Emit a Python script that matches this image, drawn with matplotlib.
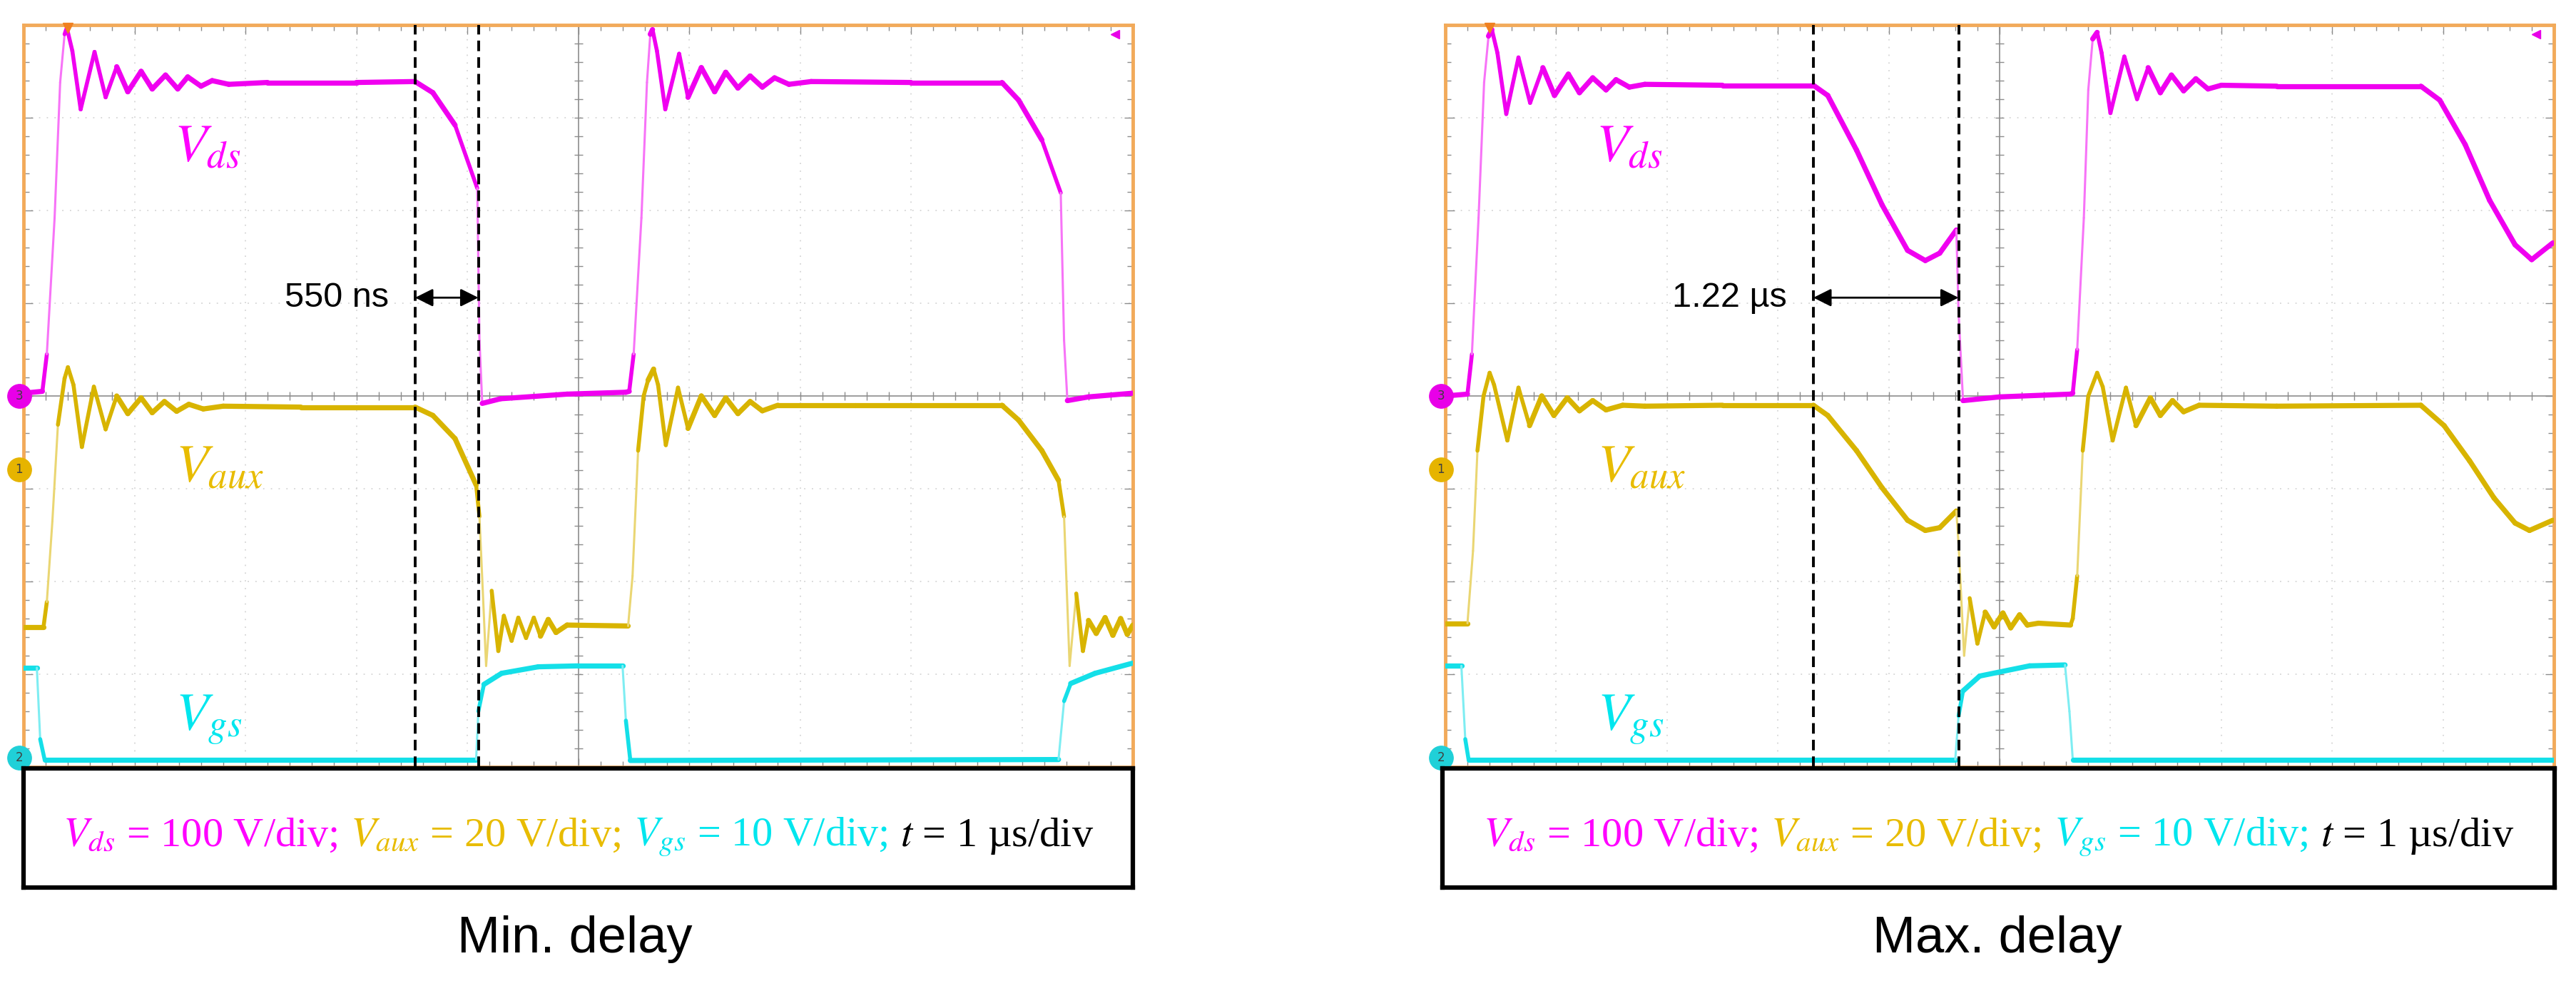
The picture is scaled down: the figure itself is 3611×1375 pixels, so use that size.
import numpy as np
import matplotlib
matplotlib.use("Agg")
import matplotlib.pyplot as plt
from matplotlib.collections import LineCollection
from matplotlib.colors import to_rgb

plt.rcParams["mathtext.fontset"] = "stix"

# ---- traces (time in µs = div, amplitude in div) ----
# Min. delay panel
min_vds_t = [0.00, 0.17, 0.21, 0.28, 0.33, 0.37, 0.39, 0.44, 0.515, 0.64, 0.74, 0.84, 0.94, 1.06, 1.16, 1.28, 1.39,
             1.48, 1.60, 1.70, 1.85, 2.20, 3.00, 3.53, 3.69, 3.89, 4.09, 4.11, 4.135, 4.30, 4.90, 5.43,
             5.46, 5.50, 5.57, 5.62, 5.65, 5.67, 5.71, 5.785, 5.91, 5.99, 6.11, 6.23, 6.33, 6.44, 6.55, 6.66,
             6.77, 6.90, 7.10, 8.00, 8.82, 8.97, 9.18, 9.35, 9.38, 9.41, 9.60, 10.00]
min_vds_v = [0.03, 0.05, 0.45, 1.92, 3.38, 3.90, 3.97, 3.72, 3.09, 3.71, 3.22, 3.55, 3.28, 3.50, 3.31, 3.46, 3.31,
             3.44, 3.34, 3.40, 3.36, 3.38, 3.38, 3.39, 3.27, 2.92, 2.24, 0.60, -0.08, -0.03, 0.02, 0.04,
             0.05, 0.45, 1.92, 3.38, 3.90, 3.95, 3.72, 3.09, 3.69, 3.22, 3.54, 3.28, 3.49, 3.32, 3.45, 3.33,
             3.43, 3.36, 3.39, 3.38, 3.38, 3.19, 2.76, 2.19, 0.60, -0.05, -0.01, 0.03]

min_vaux_t = [0.00, 0.18, 0.21, 0.26, 0.31, 0.37, 0.40, 0.45, 0.526, 0.634, 0.74, 0.84, 0.94, 1.06, 1.16, 1.27,
              1.38, 1.49, 1.62, 1.80, 2.50, 3.53, 3.69, 3.89, 4.08, 4.11, 4.17, 4.22, 4.28, 4.33, 4.40, 4.46,
              4.53, 4.60, 4.66, 4.73, 4.80, 4.90, 5.45,
              5.49, 5.54, 5.59, 5.63, 5.68, 5.72, 5.79, 5.90, 5.99, 6.11, 6.23, 6.33, 6.44, 6.55, 6.66, 6.80,
              7.50, 8.82, 8.97, 9.18, 9.33, 9.38, 9.43, 9.49, 9.55, 9.60, 9.67, 9.75, 9.82, 9.89, 9.95, 10.00]
min_vaux_v = [-2.49, -2.49, -2.22, -1.35, -0.31, 0.19, 0.31, 0.12, -0.55, 0.10, -0.36, 0.00, -0.19, -0.02, -0.18,
              -0.06, -0.165, -0.09, -0.14, -0.11, -0.12, -0.12, -0.21, -0.46, -0.96, -1.30, -2.91, -2.10, -2.75,
              -2.37, -2.64, -2.39, -2.61, -2.39, -2.59, -2.41, -2.55, -2.47, -2.48,
              -1.94, -0.59, 0.00, 0.17, 0.29, 0.12, -0.53, 0.09, -0.35, 0.00, -0.21, -0.02, -0.19, -0.06, -0.16,
              -0.10, -0.10, -0.10, -0.26, -0.59, -0.91, -1.30, -2.91, -2.13, -2.75, -2.42, -2.56, -2.39, -2.58,
              -2.40, -2.57, -2.47]

min_vgs_t = [0.00, 0.12, 0.15, 0.19, 4.08, 4.10, 4.15, 4.31, 4.64, 5.00, 5.40, 5.43, 5.47, 9.33, 9.38, 9.44, 9.66, 10.00]
min_vgs_v = [-2.93, -2.93, -3.70, -3.92, -3.92, -3.40, -3.11, -2.99, -2.92, -2.91, -2.91, -3.50, -3.93, -3.92, -3.29,
             -3.10, -2.99, -2.88]

# Max. delay panel
max_vds_t = [0.00, 0.20, 0.24, 0.30, 0.35, 0.39, 0.42, 0.47, 0.55, 0.66, 0.765, 0.88, 0.985, 1.11, 1.21, 1.33, 1.45,
             1.54, 1.66, 1.80, 2.50, 3.32, 3.45, 3.71, 3.94, 4.17, 4.33, 4.46, 4.61, 4.63, 4.67, 5.00, 5.64,
             5.66, 5.70, 5.76, 5.80, 5.84, 5.88, 5.92, 6.00, 6.125, 6.24, 6.34, 6.45, 6.55, 6.66, 6.77, 6.88,
             7.00, 7.50, 8.80, 8.97, 9.20, 9.42, 9.65, 9.80, 9.99]
max_vds_v = [0.00, 0.02, 0.45, 1.92, 3.38, 3.88, 3.95, 3.70, 3.04, 3.65, 3.16, 3.54, 3.24, 3.47, 3.27, 3.43, 3.30,
             3.41, 3.33, 3.36, 3.35, 3.35, 3.24, 2.65, 2.06, 1.57, 1.46, 1.54, 1.79, 0.90, -0.05, -0.01, 0.02,
             0.03, 0.50, 1.92, 3.30, 3.85, 3.92, 3.70, 3.05, 3.66, 3.20, 3.54, 3.27, 3.46, 3.29, 3.42, 3.31,
             3.35, 3.34, 3.34, 3.19, 2.71, 2.11, 1.63, 1.47, 1.65]

max_vaux_t = [0.00, 0.20, 0.25, 0.29, 0.345, 0.40, 0.44, 0.56, 0.66, 0.76, 0.87, 0.98, 1.10, 1.21, 1.33, 1.45, 1.60,
              1.80, 2.50, 3.32, 3.45, 3.71, 3.94, 4.17, 4.33, 4.46, 4.61, 4.63, 4.68, 4.73, 4.80, 4.87, 4.95, 5.03,
              5.10, 5.18, 5.25, 5.35, 5.64,
              5.66, 5.70, 5.75, 5.80, 5.88, 5.93, 6.02, 6.14, 6.23, 6.36, 6.45, 6.56, 6.66, 6.80, 7.50, 8.80,
              9.01, 9.24, 9.46, 9.65, 9.78, 9.99]
max_vaux_v = [-2.45, -2.45, -1.67, -0.59, 0.00, 0.25, 0.12, -0.48, 0.09, -0.32, 0.00, -0.21, -0.02, -0.16, -0.05,
              -0.15, -0.10, -0.11, -0.10, -0.10, -0.21, -0.59, -0.99, -1.34, -1.45, -1.42, -1.24, -1.60, -2.80,
              -2.18, -2.67, -2.33, -2.49, -2.34, -2.50, -2.36, -2.47, -2.45, -2.47,
              -2.40, -1.94, -0.59, 0.00, 0.25, 0.10, -0.48, 0.09, -0.32, -0.02, -0.21, -0.05, -0.17, -0.10, -0.11,
              -0.10, -0.32, -0.70, -1.10, -1.37, -1.45, -1.34]

max_vgs_t = [0.00, 0.145, 0.18, 0.21, 4.60, 4.63, 4.67, 4.82, 5.27, 5.59, 5.63, 5.66, 10.00]
max_vgs_v = [-2.91, -2.91, -3.70, -3.92, -3.92, -3.45, -3.18, -3.02, -2.91, -2.90, -3.40, -3.92, -3.92]

# cursors and delay labels
min_cursors = [3.53, 4.10]
max_cursors = [3.32, 4.63]
delay_labels = ["550 ns", "1.22 µs"]
panel_titles = ["Min. delay", "Max. delay"]
caption_parts = [(r"$V_{ds}$ = 100 V/div;", "#ff00ff"),
                 (r"$V_{aux}$ = 20 V/div;", "#e8bc00"),
                 (r"$V_{gs}$ = 10 V/div;", "#00e6ee"),
                 (r"$t$ = 1 µs/div", "black")]

C_DS, C_AUX, C_GS = "#f000f0", "#d8b400", "#14dfe8"
ORANGE = "#f2aa5a"

W, H = 3611, 1375
fig = plt.figure(figsize=(W / 100, H / 100), dpi=100)


def frac(x0, y0, x1, y1):
    return [x0 / W, 1 - y1 / H, (x1 - x0) / W, (y1 - y0) / H]


def lighten(c, k=0.45):
    r = np.array(to_rgb(c))
    return tuple(r + (1 - r) * k)


def trace(ax, t, v, color):
    t = np.asarray(t, float)
    v = np.asarray(v, float)
    pts = np.column_stack([t, v])
    segs = np.stack([pts[:-1], pts[1:]], axis=1)
    slope = np.abs(np.diff(v) / np.diff(t))
    steep = slope > 12
    lws = np.where(steep, 2.2, np.where(slope > 3, 4.0, 5.2))
    cols = [lighten(color) if s else color for s in steep]
    ax.add_collection(LineCollection(segs, colors=cols, linewidths=lws,
                                     capstyle="round", joinstyle="round", zorder=4))


def scope(ax, traces, cursors, delay_text):
    ax.set_xlim(0, 10)
    ax.set_ylim(-4, 4)
    ax.set_facecolor("white")
    for s in ax.spines.values():
        s.set_color(ORANGE)
        s.set_linewidth(3.5)
    ax.set_xticks(np.arange(0, 10.01, 1))
    ax.set_yticks(np.arange(-4, 4.01, 1))
    ax.set_xticks(np.arange(0, 10.01, 0.2), minor=True)
    ax.set_yticks(np.arange(-4, 4.01, 0.2), minor=True)
    ax.tick_params(which="both", direction="in", top=True, right=True,
                   labelbottom=False, labelleft=False, color="#8c8c8c", width=1)
    ax.tick_params(which="major", length=9)
    ax.tick_params(which="minor", length=6)
    # graticule
    for gx in range(1, 10):
        if gx != 5:
            ax.axvline(gx, color="#d6d6d6", lw=1.3, ls=(0, (1, 5)), zorder=1)
    for gy in range(-3, 4):
        if gy != 0:
            ax.axhline(gy, color="#d6d6d6", lw=1.3, ls=(0, (1, 5)), zorder=1)
    ax.axhline(0, color="#8c8c8c", lw=1.2, zorder=2)
    ax.axvline(5, color="#8c8c8c", lw=1.2, zorder=2)
    tx = np.arange(0, 10.01, 0.2)
    ty = np.arange(-4, 4.01, 0.2)
    ax.plot(tx, np.zeros_like(tx), ls="none", marker="|", ms=9, mew=1, color="#8c8c8c", zorder=2)
    ax.plot(np.full_like(ty, 5), ty, ls="none", marker="_", ms=9, mew=1, color="#8c8c8c", zorder=2)

    for t, v, c in traces:
        trace(ax, t, v, c)

    # channel markers
    for yv, c, lab in [(0.0, "#e800e8", "3"), (-0.79, "#e6b400", "1"), (-3.9, "#20d0d8", "2")]:
        ax.plot([-0.04], [yv], marker="o", ms=24, color=c, clip_on=False, zorder=6)
        ax.text(-0.04, yv, lab, fontsize=12, color="#404040", ha="center", va="center",
                clip_on=False, zorder=7)
    ax.plot([0.40], [3.97], marker="v", ms=10, color="#f08020", clip_on=False, zorder=6)
    ax.plot([9.84], [3.9], marker="<", ms=9, color="#e800e8", clip_on=False, zorder=6)

    # labels
    ax.text(1.36, 2.53, r"$V_{ds}$", fontsize=54, color="#ff00ff", zorder=5)
    ax.text(1.37, -0.93, r"$V_{aux}$", fontsize=54, color="#e8bc00", zorder=5)
    ax.text(1.37, -3.61, r"$V_{gs}$", fontsize=54, color="#00e6ee", zorder=5)

    # cursors and delay arrow
    for c in cursors:
        ax.axvline(c, color="black", lw=2.8, ls=(0, (3.8, 2.2)), zorder=8)
    ax.annotate("", xy=(cursors[1], 1.06), xytext=(cursors[0], 1.06),
                arrowprops=dict(arrowstyle="<|-|>", color="black", lw=2,
                                mutation_scale=38, shrinkA=0, shrinkB=0), zorder=9)
    ax.text(cursors[0] - 0.24, 1.06, delay_text, fontsize=35, family="Liberation Sans",
            ha="right", va="center", zorder=9)


def caption(bax, parts, size, base_y):
    for s in bax.spines.values():
        s.set_linewidth(4.5)
        s.set_color("black")
    bax.set_xticks([])
    bax.set_yticks([])
    r = fig.canvas.get_renderer()
    gap = size * 100 / 72 * 0.3
    objs, widths = [], []
    for s, c in parts:
        o = bax.text(0, base_y, s, color=c, fontsize=size, family="Liberation Serif",
                     va="baseline", ha="left", transform=bax.transAxes)
        objs.append(o)
        widths.append(o.get_window_extent(r).width)
    axw = bax.get_window_extent(r).width
    total = sum(widths) + gap * (len(parts) - 1)
    x = (axw - total) / 2
    for o, w in zip(objs, widths):
        o.set_x(x / axw)
        x += w + gap


ax_l = fig.add_axes(frac(33, 35, 1588, 1075))
ax_r = fig.add_axes(frac(2026, 35, 3580, 1075))
scope(ax_l, [(min_vds_t, min_vds_v, C_DS), (min_vaux_t, min_vaux_v, C_AUX), (min_vgs_t, min_vgs_v, C_GS)],
      min_cursors, delay_labels[0])
scope(ax_r, [(max_vds_t, max_vds_v, C_DS), (max_vaux_t, max_vaux_v, C_AUX), (max_vgs_t, max_vgs_v, C_GS)],
      max_cursors, delay_labels[1])

box_l = fig.add_axes(frac(33, 1077, 1588, 1244))
box_r = fig.add_axes(frac(2022, 1077, 3581, 1244))
fig.canvas.draw()
caption(box_l, caption_parts, 42, 0.35)
caption(box_r, caption_parts, 42, 0.35)

fig.text(806 / W, 1 - 1317 / H, panel_titles[0], fontsize=52, family="Liberation Sans", ha="center", va="center")
fig.text(2800 / W, 1 - 1317 / H, panel_titles[1], fontsize=52, family="Liberation Sans", ha="center", va="center")

fig.savefig("out.png", dpi=100, facecolor="white")
